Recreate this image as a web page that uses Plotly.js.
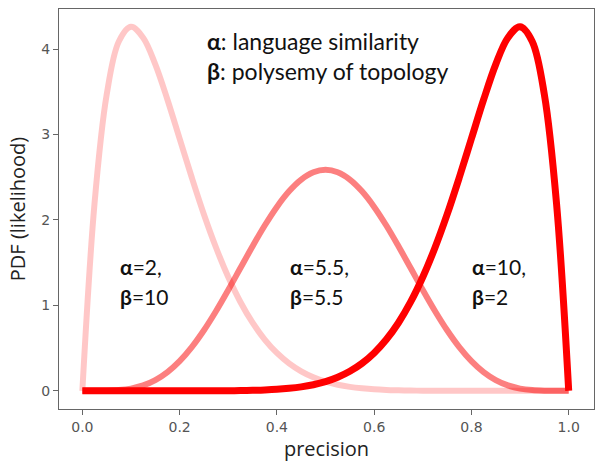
<!DOCTYPE html>
<html>
<head>
<meta charset="utf-8">
<script src="https://cdn.plot.ly/plotly-3.0.1.min.js"></script>
<style>html,body{margin:0;padding:0;background:#fff;}#chart{width:601px;height:467px;}</style>
</head>
<body>
<div id="chart"></div>
<script>
// precision values (x) sampled every 0.025
const precision = [0,0.025,0.05,0.075,0.1,0.125,0.15,0.175,0.2,0.225,0.25,0.275,0.3,0.325,0.35,0.375,0.4,0.425,0.45,0.475,0.5,0.525,0.55,0.575,0.6,0.625,0.65,0.675,0.7,0.725,0.75,0.775,0.8,0.825,0.85,0.875,0.9,0.925,0.95,0.975,1];
// alpha=2, beta=10
const pdfA2B10 = [0,2.190,3.466,4.090,4.262,4.134,3.822,3.408,2.953,2.497,2.065,1.675,1.332,1.040,0.797,0.600,0.443,0.321,0.228,0.158,0.107,0.071,0.046,0.029,0.017,0.010,0.006,0.003,0.0015,0.0007,0.0003,0.0001,0,0,0,0,0,0,0,0,0];
// alpha=5.5, beta=5.5
const pdfA55B55 = [0,0.0001,0.0015,0.0081,0.0260,0.0626,0.1250,0.2186,0.3472,0.5114,0.7088,0.9345,1.1802,1.4368,1.6922,1.9349,2.1528,2.3350,2.4725,2.5579,2.5869,2.5579,2.4725,2.3350,2.1528,1.9349,1.6922,1.4368,1.1802,0.9345,0.7088,0.5114,0.3472,0.2186,0.1250,0.0626,0.0260,0.0081,0.0015,0.0001,0];
// alpha=10, beta=2
const pdfA10B2 = [0,0,0,0,0,0,0,0,0,0.0001,0.0003,0.0007,0.0015,0.003,0.006,0.010,0.017,0.029,0.046,0.071,0.107,0.158,0.228,0.321,0.443,0.600,0.797,1.040,1.332,1.675,2.065,2.497,2.953,3.408,3.822,4.134,4.262,4.090,3.466,2.190,0];

const xTicks = [0,0.2,0.4,0.6,0.8,1.0];
const yTicks = [0,1,2,3,4];
const labelTexts = [
  ["<b>α</b>=2,", "<b>β</b>=10"],
  ["<b>α</b>=5.5,", "<b>β</b>=5.5"],
  ["<b>α</b>=10,", "<b>β</b>=2"]
];
const labelX = [0.074, 0.422, 0.797];
const labelY = [1.45, 1.10];
const legendLines = ["<b>α</b>: language similarity", "<b>β</b>: polysemy of topology"];

const traces = [
  {x: precision, y: pdfA2B10, mode: 'lines', line: {color: 'rgba(255,0,0,0.22)', width: 6, shape: 'spline'}, hoverinfo: 'skip'},
  {x: precision, y: pdfA55B55, mode: 'lines', line: {color: 'rgba(250,0,0,0.5)', width: 6, shape: 'spline'}, hoverinfo: 'skip'},
  {x: precision, y: pdfA10B2, mode: 'lines', line: {color: 'rgb(255,0,0)', width: 7, shape: 'spline'}, hoverinfo: 'skip'}
];

const lblFont = {family: 'Lato, "Open Sans", sans-serif', size: 21, color: '#111'};
const topFont = {family: 'Lato, "Open Sans", sans-serif', size: 23, color: '#111'};
const annotations = [];
labelTexts.forEach((pair, i) => {
  pair.forEach((t, j) => {
    annotations.push({x: labelX[i], y: labelY[j], xref: 'x', yref: 'y', text: t, showarrow: false, xanchor: 'left', yanchor: 'middle', font: lblFont});
  });
});
legendLines.forEach((t, j) => {
  annotations.push({x: 0.253, y: [4.09, 3.74][j], xref: 'x', yref: 'y', text: t, showarrow: false, xanchor: 'left', yanchor: 'middle', font: topFont});
});

const layout = {
  width: 601, height: 467,
  margin: {l: 59, r: 7, t: 9, b: 58},
  paper_bgcolor: '#fff', plot_bgcolor: '#fff',
  showlegend: false,
  xaxis: {
    range: [-0.048, 1.052], tickvals: xTicks, tickformat: '.1f',
    showgrid: false, zeroline: false, showline: true, mirror: true, linecolor: '#666', linewidth: 1,
    ticks: 'outside', ticklen: 5, tickcolor: '#666',
    tickfont: {family: '"DejaVu Sans", sans-serif', size: 14, color: '#555'},
    title: {text: 'precision', font: {family: '"Open Sans", sans-serif', size: 20, color: '#222'}, standoff: 8}
  },
  yaxis: {
    range: [-0.213, 4.47], tickvals: yTicks,
    showgrid: false, zeroline: false, showline: true, mirror: true, linecolor: '#666', linewidth: 1,
    ticks: 'outside', ticklen: 5, tickcolor: '#666',
    tickfont: {family: '"DejaVu Sans", sans-serif', size: 14, color: '#555'},
    title: {text: 'PDF (likelihood)', font: {family: '"Open Sans", sans-serif', size: 20, color: '#222'}, standoff: 10}
  },
  annotations: annotations
};

Plotly.newPlot('chart', traces, layout, {staticPlot: true, displayModeBar: false});
</script>
</body>
</html>
